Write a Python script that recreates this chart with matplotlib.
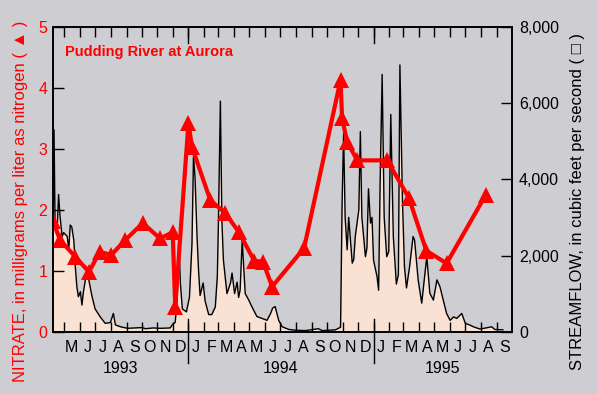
import numpy as np
import pandas as pd
import matplotlib
matplotlib.use('Agg')
import matplotlib.pyplot as plt
import matplotlib.transforms as mtransforms
from matplotlib.ticker import FuncFormatter

# nitrate samples, mg/L as nitrogen
no3_dates = ['1993-04-09', '1993-04-23', '1993-05-23', '1993-06-19', '1993-07-10',
             '1993-08-02', '1993-08-29', '1993-10-03', '1993-11-06', '1993-12-01',
             '1993-12-06', '1994-01-01', '1994-01-08', '1994-02-13', '1994-03-15',
             '1994-04-10', '1994-05-11', '1994-05-28', '1994-06-15', '1994-08-17',
             '1994-10-28', '1994-10-31', '1994-11-10', '1994-11-30', '1995-01-28',
             '1995-03-12', '1995-04-15', '1995-05-25', '1995-08-10']
no3_vals = [1.81, 1.50, 1.23, 0.98, 1.31,
            1.26, 1.50, 1.78, 1.53, 1.63,
            0.41, 3.42, 3.03, 2.16, 1.94,
            1.64, 1.16, 1.15, 0.74, 1.37,
            4.13, 3.50, 3.11, 2.81, 2.81,
            2.19, 1.33, 1.12, 2.24]

# streamflow, cubic feet per second
q_dates = ['1993-04-09', '1993-04-11', '1993-04-13', '1993-04-17', '1993-04-20',
           '1993-04-23', '1993-04-27', '1993-04-30', '1993-05-07', '1993-05-10',
           '1993-05-13', '1993-05-16', '1993-05-20', '1993-05-23', '1993-05-26',
           '1993-05-29', '1993-06-02', '1993-06-05', '1993-06-08', '1993-06-15',
           '1993-06-18', '1993-06-25', '1993-07-01', '1993-07-11', '1993-07-21',
           '1993-07-31', '1993-08-06', '1993-08-10', '1993-08-20', '1993-09-03',
           '1993-10-02', '1993-10-08', '1993-10-24', '1993-11-07', '1993-11-26',
           '1993-11-30', '1993-12-06', '1993-12-10', '1993-12-13', '1993-12-16',
           '1993-12-20', '1993-12-28', '1994-01-03', '1994-01-08', '1994-01-11',
           '1994-01-14', '1994-01-18', '1994-01-21', '1994-01-24', '1994-01-30',
           '1994-02-03', '1994-02-10', '1994-02-16', '1994-02-23', '1994-02-27',
           '1994-03-01', '1994-03-05', '1994-03-08', '1994-03-11', '1994-03-18',
           '1994-03-25', '1994-03-28', '1994-04-02', '1994-04-07', '1994-04-10',
           '1994-04-13', '1994-04-17', '1994-04-20', '1994-04-23', '1994-04-30',
           '1994-05-06', '1994-05-16', '1994-05-26', '1994-06-05', '1994-06-12',
           '1994-06-16', '1994-06-21', '1994-06-28', '1994-07-05', '1994-07-18',
           '1994-07-31', '1994-08-20', '1994-09-14', '1994-09-22', '1994-10-18',
           '1994-10-28', '1994-10-31', '1994-11-03', '1994-11-06', '1994-11-10',
           '1994-11-13', '1994-11-20', '1994-11-23', '1994-11-26', '1994-12-03',
           '1994-12-06', '1994-12-09', '1994-12-16', '1994-12-19', '1994-12-22',
           '1994-12-26', '1994-12-29', '1995-01-01', '1995-01-08', '1995-01-11',
           '1995-01-14', '1995-01-18', '1995-01-22', '1995-01-27', '1995-01-31',
           '1995-02-04', '1995-02-09', '1995-02-15', '1995-02-19', '1995-02-22',
           '1995-02-27', '1995-03-03', '1995-03-07', '1995-03-13', '1995-03-20',
           '1995-03-23', '1995-03-30', '1995-04-06', '1995-04-16', '1995-04-22',
           '1995-04-29', '1995-05-06', '1995-05-12', '1995-05-25', '1995-06-01',
           '1995-06-08', '1995-06-14', '1995-06-24', '1995-07-01', '1995-07-10',
           '1995-07-17', '1995-07-30', '1995-08-22', '1995-08-28', '1995-09-13']
q_vals = [2400, 5300, 2900, 2600, 3600,
          3000, 2500, 2600, 2500, 2150,
          2800, 2750, 2400, 1700, 1180,
          920, 1050, 700, 1050, 1620,
          1400, 920, 600, 390, 220,
          240, 480, 180, 130, 90,
          110, 80, 100, 90, 100,
          180, 250, 900, 2450, 1300,
          600, 520, 900, 2300, 4600,
          4050, 2500, 1600, 950, 1280,
          800, 450, 450, 650, 1450,
          2750, 6050, 2900, 1880, 1000,
          1280, 1540, 1000, 1300, 900,
          1100, 2400, 1700, 1000, 830,
          660, 400, 350, 300, 480,
          620, 660, 300, 130, 60,
          40, 30, 80, 30, 50,
          120, 3350, 5200, 3000, 2150,
          3000, 1800, 1900, 2500, 3200,
          5250, 3000, 1970, 2200, 3750,
          2850, 3000, 1880, 1440, 1090,
          3900, 6750, 3000, 1970, 2100,
          5700, 2500, 1250, 1500, 7000,
          3450, 1700, 1150, 1700, 2500,
          2400, 1360, 750, 1970, 1010,
          830, 1360, 1180, 480, 300,
          390, 350, 480, 220, 175,
          130, 70, 130, 60, 50]

month_letters = ['J', 'F', 'M', 'A', 'M', 'J', 'J', 'A', 'S', 'O', 'N', 'D']
years = [1993, 1994, 1995]

plt.rcParams['font.family'] = ['Liberation Sans', 'DejaVu Sans']

bg = '#cdcdd2'
fig = plt.figure(figsize=(5.97, 3.94), dpi=100, facecolor=bg)
ax = fig.add_axes([0.0888, 0.158, 0.7688, 0.774])
ax2 = ax.twinx()
ax.set_zorder(ax2.get_zorder() + 1)
ax.patch.set_visible(False)

# streamflow underneath
qd = pd.to_datetime(q_dates)
ax2.fill_between(qd, q_vals, 0, color='#f9e2d4', lw=0)
ax2.plot(qd, q_vals, color='black', lw=1)
ax2.set_ylim(0, 8000)
ax2.set_yticks([0, 2000, 4000, 6000, 8000])
ax2.yaxis.set_major_formatter(FuncFormatter(lambda v, p: f'{int(v):,}'))
ax2.tick_params(axis='y', direction='in', length=8, width=1, labelsize=11.5, pad=5)

# nitrate on top
nd = pd.to_datetime(no3_dates)
ax.plot(nd, no3_vals, color='red', lw=3, marker='^', ms=11, mew=0)
ax.set_ylim(0, 5)
ax.set_yticks([0, 1, 2, 3, 4, 5])
ax.tick_params(axis='y', direction='in', length=8, width=1, labelsize=11.5,
               labelcolor='red', pad=4)

x0, x1 = pd.Timestamp('1993-04-09'), pd.Timestamp('1995-10-01')
ax.set_xlim(x0, x1)

months = pd.date_range('1993-05-01', '1995-09-01', freq='MS')
mids = months + pd.Timedelta(days=15)
ax.set_xticks(months)
ax.set_xticklabels([])
ax.set_xticks(mids, minor=True)
ax.set_xticklabels([month_letters[m.month - 1] for m in months], minor=True)
ax.tick_params(axis='x', which='major', direction='in', length=7, width=1,
               top=True, bottom=True)
ax.tick_params(axis='x', which='minor', length=0, pad=6, labelsize=11.5)

for sp in list(ax.spines.values()) + list(ax2.spines.values()):
    sp.set_linewidth(1.2)

# longer year marks and year labels
trans = mtransforms.blended_transform_factory(ax.transData, ax.transAxes)
for y in years[1:]:
    d = pd.Timestamp(f'{y}-01-01')
    ax.axvline(d, ymin=-0.102, ymax=0.043, color='black', lw=1, clip_on=False)
    ax.axvline(d, ymin=1 - 0.053, ymax=1, color='black', lw=1, clip_on=False)
edges = [x0] + [pd.Timestamp(f'{y}-01-01') for y in years[1:]] + [x1]
for i, y in enumerate(years):
    mid = edges[i] + (edges[i + 1] - edges[i]) / 2
    ax.text(mid, -0.12, str(y), transform=trans, ha='center', va='center', fontsize=11.5)

ax.text(0.026, 0.918, 'Pudding River at Aurora', transform=ax.transAxes,
        color='red', fontweight='bold', fontsize=10.5, va='center')

fig.text(0.034, 0.489, 'NITRATE, in milligrams per liter as nitrogen ( \u25B2 )',
         rotation=90, color='red', ha='center', va='center', fontsize=12)
fig.text(0.968, 0.489, 'STREAMFLOW, in cubic feet per second ( \u25A1 )',
         rotation=90, color='black', ha='center', va='center', fontsize=12)

fig.savefig('out.png', dpi=100, facecolor=bg)
